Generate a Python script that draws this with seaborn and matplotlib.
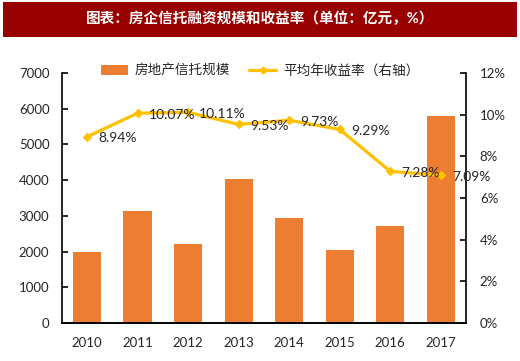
import matplotlib
matplotlib.use("Agg")
import matplotlib.pyplot as plt
import seaborn as sns
import pandas as pd
import numpy as np
from matplotlib.patches import Rectangle
from matplotlib.lines import Line2D
from matplotlib.ticker import PercentFormatter, MultipleLocator

years = ["2010", "2011", "2012", "2013", "2014", "2015", "2016", "2017"]
scale = [2000, 3140, 2220, 4030, 2950, 2050, 2720, 5800]
rates = [8.94, 10.07, 10.11, 9.53, 9.73, 9.29, 7.28, 7.09]
rate_labels = ["8.94%", "10.07%", "10.11%", "9.53%", "9.73%", "9.29%", "7.28%", "7.09%"]

title = "图表：房企信托融资规模和收益率（单位：亿元，%）"
bar_name = "房地产信托规模"
line_name = "平均年收益率（右轴）"

sns.set_theme(style="white")
plt.rcParams['font.family'] = ['Lato', 'Noto Sans CJK SC', 'DejaVu Sans']

bar_color = "#ED7D31"
line_color = "#FFC000"
text_color = "#262626"

df = pd.DataFrame({"year": years, "scale": scale, "rate": rates})

fig = plt.figure(figsize=(5.2, 3.61), dpi=100)
ax = fig.add_axes([0.119, 0.105, 0.777, 0.693])

sns.barplot(data=df, x="year", y="scale", color=bar_color, saturation=1,
            width=0.56, ax=ax, edgecolor="none")
ax.set_ylim(0, 7000)
ax.yaxis.set_major_locator(MultipleLocator(1000))
ax.set_xlabel("")
ax.set_ylabel("")

ax2 = ax.twinx()
sns.pointplot(data=df, x="year", y="rate", color=line_color, markers="D",
              markersize=3.2, linewidth=2.3, ax=ax2, errorbar=None)
ax2.set_ylim(0, 12)
ax2.yaxis.set_major_locator(MultipleLocator(2))
ax2.yaxis.set_major_formatter(PercentFormatter(decimals=0))
ax2.set_ylabel("")
ax.set_xlim(-0.5, 7.5)
ax2.set_xlim(-0.5, 7.5)

for i, (r, lab) in enumerate(zip(rates, rate_labels)):
    ax2.annotate(lab, (i, r), xytext=(8, -1), textcoords="offset points",
                 ha="left", va="center", fontsize=10, color=text_color)

for a in (ax, ax2):
    for s in a.spines.values():
        s.set_color("black")
        s.set_linewidth(1.2)
    a.spines["top"].set_visible(False)
    a.tick_params(axis="y", direction="in", length=4, width=1.2,
                  colors="black", labelcolor=text_color, labelsize=9.5)
    a.tick_params(axis="x", length=0, labelcolor=text_color, labelsize=9.5, pad=10)

ax.spines["right"].set_visible(False)
ax2.spines["left"].set_visible(False)
ax.tick_params(axis="y", left=True, right=False, pad=9)
ax2.tick_params(axis="y", right=True, left=False, pad=10)

# title band
fig.patches.append(Rectangle((3 / 520, 1 - 37 / 361), 514 / 520, 35 / 361,
                             transform=fig.transFigure, facecolor="#990000",
                             edgecolor="none", zorder=0))
fig.text(0.5, 1 - 19 / 361, title, color="white", fontsize=10.5,
         fontweight="bold", ha="center", va="center")

handles = [
    Rectangle((0, 0), 1, 1, facecolor=bar_color, edgecolor="none"),
    Line2D([0], [0], color=line_color, lw=2.3, marker="D", markersize=3.5),
]
fig.legend(handles, [bar_name, line_name], loc="center",
           bbox_to_anchor=(0.5, 1 - 70 / 361), ncol=2, frameon=False,
           fontsize=9.8, handlelength=2.0, columnspacing=1.4, handletextpad=0.5,
           labelcolor=text_color)

fig.savefig("out.png", dpi=100)
